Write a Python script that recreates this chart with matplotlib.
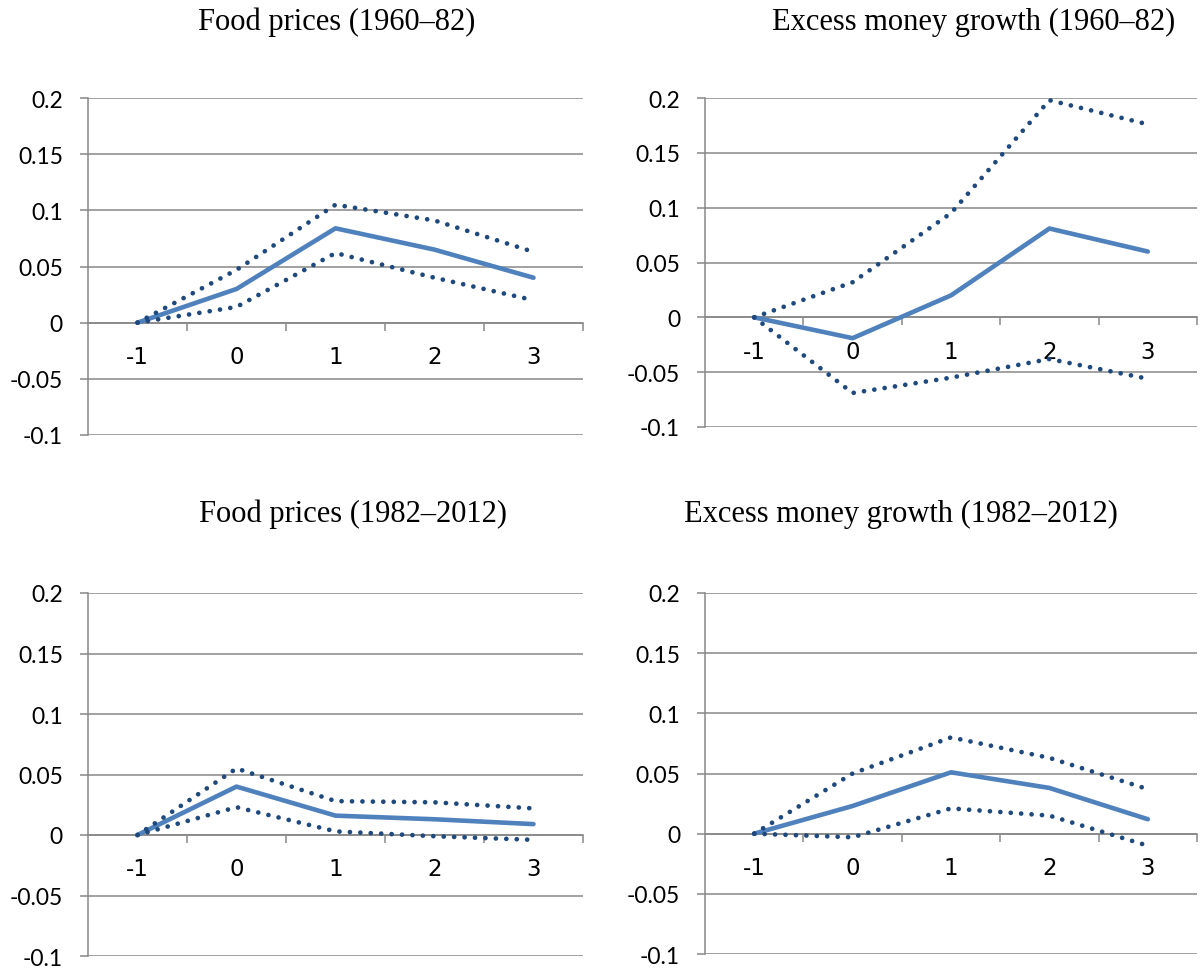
import numpy as np
import matplotlib
matplotlib.use("Agg")
import matplotlib.pyplot as plt
from matplotlib.ticker import FixedLocator, FuncFormatter

plt.rcParams['axes.unicode_minus'] = False

lags = [-1, 0, 1, 2, 3]

# food prices 1960-82
food1_mid = [0, 0.030, 0.084, 0.065, 0.040]
food1_hi = [0, 0.047, 0.105, 0.091, 0.063]
food1_lo = [0, 0.014, 0.062, 0.040, 0.020]

# excess money growth 1960-82
money1_mid = [0, -0.019, 0.020, 0.081, 0.060]
money1_hi = [0, 0.032, 0.095, 0.198, 0.176]
money1_lo = [0, -0.069, -0.055, -0.038, -0.056]

# food prices 1982-2012
food2_mid = [0, 0.040, 0.016, 0.013, 0.009]
food2_hi = [0, 0.055, 0.028, 0.027, 0.022]
food2_lo = [0, 0.023, 0.003, -0.001, -0.004]

# excess money growth 1982-2012
money2_mid = [0, 0.023, 0.051, 0.038, 0.012]
money2_hi = [0, 0.050, 0.080, 0.063, 0.037]
money2_lo = [0, -0.003, 0.021, 0.015, -0.010]

titles = ["Food prices (1960\u201382)", "Excess money growth (1960\u201382)",
          "Food prices (1982\u20132012)", "Excess money growth (1982\u20132012)"]
yticks = [-0.1, -0.05, 0, 0.05, 0.1, 0.15, 0.2]

W, H = 1202, 970
# axes boxes in pixels: left, right, top, bottom
boxes = [(88, 583, 99, 436), (705, 1197, 99, 428),
         (88, 583, 594, 957), (705, 1197, 594, 955)]
title_pos = [(337, 22), (974, 22), (353, 514), (901, 514)]

SOLID = '#4F81BD'
DOTS = '#1F497D'
GRID = '#878787'

fig = plt.figure(figsize=(W / 100, H / 100), dpi=100)

panels = [(food1_mid, food1_hi, food1_lo), (money1_mid, money1_hi, money1_lo),
          (food2_mid, food2_hi, food2_lo), (money2_mid, money2_hi, money2_lo)]

for k, (mid, hi, lo) in enumerate(panels):
    l, r, t, b = boxes[k]
    ax = fig.add_axes([l / W, 1 - b / H, (r - l) / W, (b - t) / H])
    ax.set_xlim(-1.5, 3.5)
    ax.set_ylim(-0.1, 0.2)

    ax.plot(lags, mid, color=SOLID, lw=3.3, solid_capstyle='round',
            solid_joinstyle='round', zorder=3)
    for band in (hi, lo):
        ax.plot(lags, band, color=DOTS, lw=3.4, linestyle=(0, (0.01, 2.2)),
                dash_capstyle='round', zorder=4, clip_on=False)

    ax.yaxis.set_major_locator(FixedLocator(yticks))
    ax.yaxis.set_major_formatter(FuncFormatter(lambda v, pos: '%g' % v))
    ax.grid(axis='y', color=GRID, lw=1.1)
    ax.set_axisbelow(True)

    ax.xaxis.set_major_locator(FixedLocator(lags))
    ax.xaxis.set_minor_locator(FixedLocator([-0.5, 0.5, 1.5, 2.5, 3.5]))
    ax.tick_params(axis='x', which='major', length=0, pad=16, labelsize=16.5)
    ax.tick_params(axis='x', which='minor', length=6, width=1.1, color=GRID,
                   direction='out')
    ax.tick_params(axis='y', length=6, width=1.1, color=GRID, pad=12, labelsize=16.5)
    for lab in ax.get_xticklabels() + ax.get_yticklabels():
        lab.set_fontfamily('Lato')

    ax.spines['bottom'].set_position(('data', 0))
    ax.spines['bottom'].set_color(GRID)
    ax.spines['bottom'].set_linewidth(1.1)
    ax.spines['left'].set_color(GRID)
    ax.spines['left'].set_linewidth(1.1)
    ax.spines['top'].set_visible(False)
    ax.spines['right'].set_visible(False)

    tx, ty = title_pos[k]
    fig.text(tx / W, 1 - ty / H, titles[k], ha='center', va='center',
             fontsize=22, family='Liberation Serif')

fig.savefig('out.png', dpi=100, facecolor='white')
